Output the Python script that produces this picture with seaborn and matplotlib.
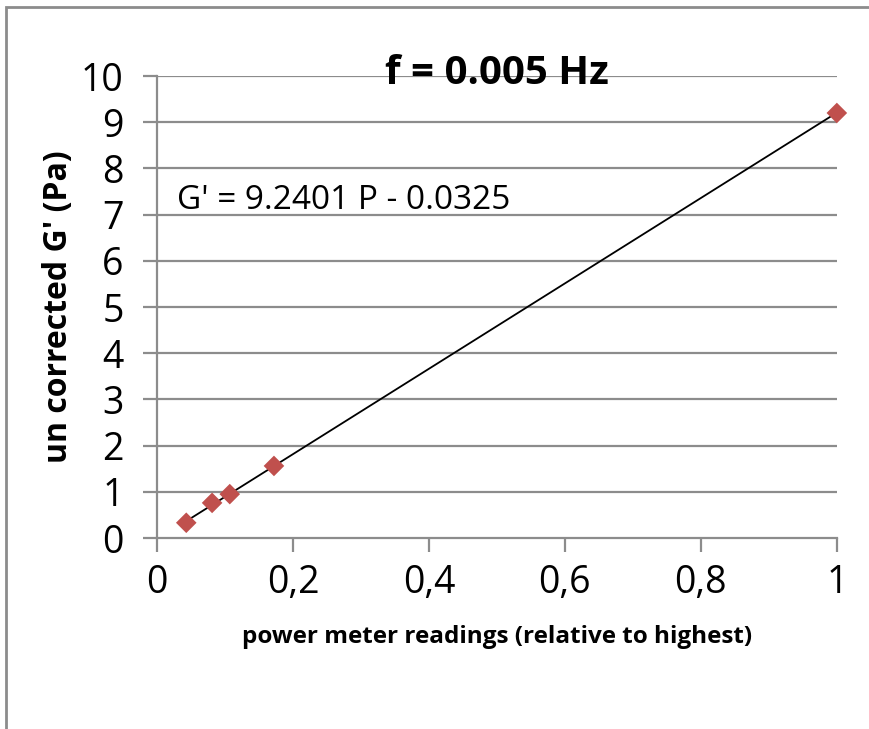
import matplotlib
matplotlib.use("Agg")
import matplotlib.pyplot as plt
import seaborn as sns
import numpy as np
import pandas as pd
from matplotlib.patches import Rectangle

# data
power = [0.043, 0.081, 0.107, 0.172, 1.0]
g_prime = [0.33, 0.76, 0.95, 1.56, 9.2]
slope = 9.2401
intercept = -0.0325
x_ticks = [0, 0.2, 0.4, 0.6, 0.8, 1]
x_tick_labels = ["0", "0,2", "0,4", "0,6", "0,8", "1"]
y_ticks = list(range(0, 11))

sns.set_theme(style="white")
plt.rcParams['font.family'] = ['Open Sans', 'DejaVu Sans']
plt.rcParams['text.color'] = 'black'
plt.rcParams['axes.labelcolor'] = 'black'

fig = plt.figure(figsize=(8.69, 7.29), dpi=100)
ax = fig.add_axes([0.1807, 0.262, 0.963 - 0.1807, 0.8957 - 0.262])

df = pd.DataFrame({"P": power, "G": g_prime})
xs = np.array([min(power), max(power)])
ax.plot(xs, slope * xs + intercept, color="black", lw=1.3, zorder=3, clip_on=False)
sns.scatterplot(data=df, x="P", y="G", marker="D", s=110, color="#C0504D",
                edgecolor="none", ax=ax, zorder=4, clip_on=False)

grid_c = "#8C8C8C"
ax.set_xlim(0, 1)
ax.set_ylim(0, 10)
ax.set_xticks(x_ticks)
ax.set_xticklabels(x_tick_labels)
ax.set_yticks(y_ticks)
for y in y_ticks[1:]:
    ax.axhline(y, color=grid_c, lw=1.6, zorder=1)
for s in ["top", "right"]:
    ax.spines[s].set_visible(False)
for s in ["left", "bottom"]:
    ax.spines[s].set_color(grid_c)
    ax.spines[s].set_linewidth(1.6)
ax.tick_params(axis="both", which="major", direction="out", length=10, width=1.6,
               color=grid_c, labelsize=27, labelcolor="black",
               bottom=True, left=True)
ax.tick_params(axis="x", pad=9)
ax.tick_params(axis="y", pad=14)
ax.set_xlabel("power meter readings (relative to highest)", fontsize=17.5,
              fontweight="bold", labelpad=16, color="black")
ax.set_ylabel("un corrected G' (Pa)", fontsize=23, fontweight="bold", labelpad=4,
              color="black")
ax.set_title("f = 0.005 Hz", fontsize=29, fontweight="bold", pad=-6, x=0.5,
             color="black")
ax.text(0.03, 7.3, "G' = 9.2401 P - 0.0325", fontsize=24, va="center", ha="left",
        transform=ax.transData, color="black")

fig.patches.append(Rectangle((6 / 869, -0.1), 1.2, 1 - 7 / 729 + 0.1,
                             transform=fig.transFigure, fill=False,
                             edgecolor="#8C8C8C", lw=2))

fig.savefig("out.png", dpi=100)
